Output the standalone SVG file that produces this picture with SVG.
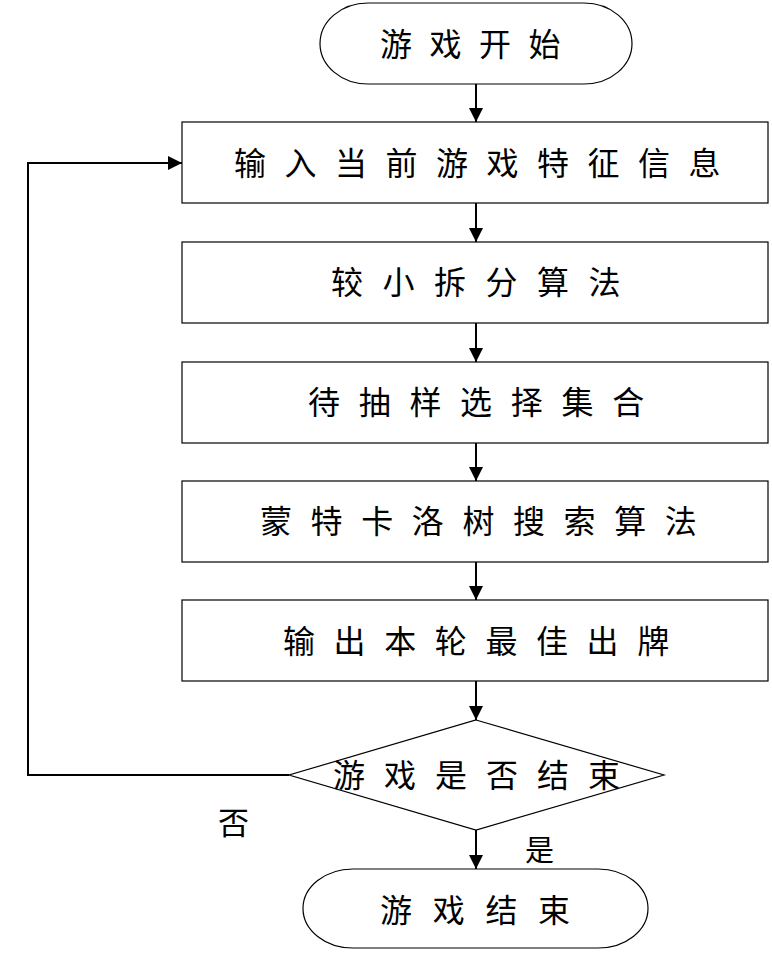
<svg xmlns="http://www.w3.org/2000/svg" width="772" height="953" viewBox="0 0 772 953">
<style>
.shape{fill:#fff;stroke:#000;stroke-width:1.2}
.t{font-family:"Noto Sans CJK SC","Noto Sans",sans-serif;font-size:32px;fill:#000}
.conn{fill:none;stroke:#000;stroke-width:2}
</style>
<defs>
<marker id="arr" markerUnits="userSpaceOnUse" markerWidth="16" markerHeight="16" refX="14" refY="7" orient="auto">
<path d="M0,0 L14,7 L0,14 Z" fill="#000"/>
</marker>
</defs>
<rect width="772" height="953" fill="#fff"/>
<g id="connectors">
<line class="conn" x1="476" y1="84" x2="476" y2="122" marker-end="url(#arr)"/>
<line class="conn" x1="476" y1="203" x2="476" y2="242" marker-end="url(#arr)"/>
<line class="conn" x1="476" y1="323" x2="476" y2="362" marker-end="url(#arr)"/>
<line class="conn" x1="476" y1="443" x2="476" y2="481" marker-end="url(#arr)"/>
<line class="conn" x1="476" y1="562" x2="476" y2="600" marker-end="url(#arr)"/>
<line class="conn" x1="476" y1="681" x2="476" y2="720" marker-end="url(#arr)"/>
<line class="conn" x1="476" y1="830" x2="476" y2="869" marker-end="url(#arr)"/>
<polyline class="conn" points="289,775 28,775 28,163 182,163" marker-end="url(#arr)"/>
<text class="t" x="218" y="834" style="font-size:31px">否</text>
<text class="t" x="525" y="861" style="font-size:29px">是</text>
</g>
<g id="start">
<rect class="shape" x="320" y="3" width="312" height="81" rx="48" ry="40.5"/>
<text class="t" x="380" y="56" letter-spacing="17.5">游戏开始</text>
</g>
<g id="n1">
<rect class="shape" x="182" y="122" width="586" height="81"/>
<text class="t" x="234" y="175" letter-spacing="18.5">输入当前游戏特征信息</text>
</g>
<g id="n2">
<rect class="shape" x="182" y="242" width="586" height="81"/>
<text class="t" x="331" y="294" letter-spacing="19.5">较小拆分算法</text>
</g>
<g id="n3">
<rect class="shape" x="182" y="362" width="586" height="81"/>
<text class="t" x="308" y="414" letter-spacing="18.7">待抽样选择集合</text>
</g>
<g id="n4">
<rect class="shape" x="182" y="481" width="586" height="81"/>
<text class="t" x="260" y="533" letter-spacing="18.6">蒙特卡洛树搜索算法</text>
</g>
<g id="n5">
<rect class="shape" x="182" y="600" width="586" height="81"/>
<text class="t" x="283" y="653" letter-spacing="18.6">输出本轮最佳出牌</text>
</g>
<g id="decision">
<polygon class="shape" points="476,720 664,775 476,830 289,775"/>
<text class="t" x="333" y="787" letter-spacing="19">游戏是否结束</text>
</g>
<g id="end">
<rect class="shape" x="303" y="869" width="345" height="79" rx="50" ry="39.5"/>
<text class="t" x="380" y="922" letter-spacing="20.7">游戏结束</text>
</g>
</svg>
